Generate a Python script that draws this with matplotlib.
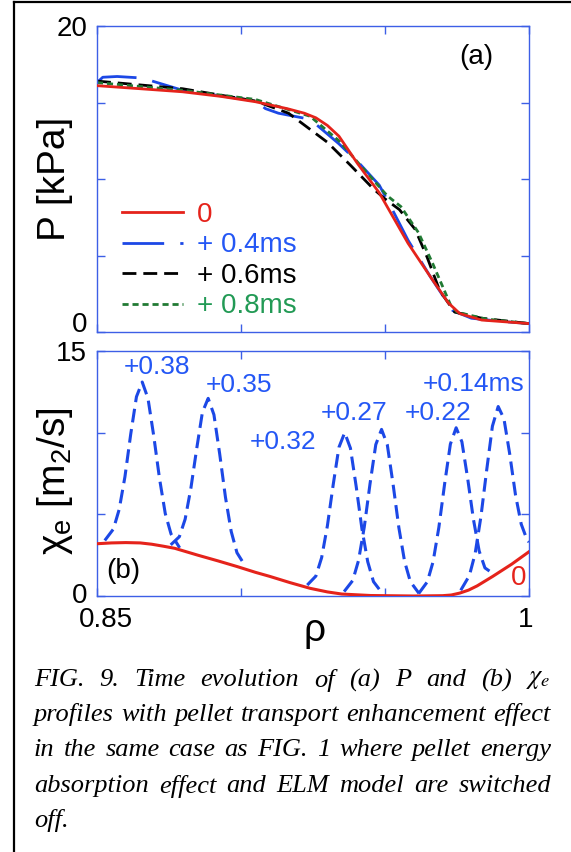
import matplotlib
matplotlib.use("Agg")
import matplotlib.pyplot as plt
from matplotlib.lines import Line2D
from matplotlib.transforms import ScaledTranslation

plt.rcParams['font.family'] = ['Liberation Sans', 'DejaVu Sans']
plt.rcParams['mathtext.fontset'] = 'custom'
plt.rcParams['mathtext.rm'] = 'Liberation Sans'
plt.rcParams['mathtext.it'] = 'Liberation Sans:italic'

# ____________________ data ____________________ #

# (a) pressure profiles
rho_p0 = [0.85, 0.865, 0.8797, 0.893, 0.905, 0.916, 0.922, 0.926, 0.930, 0.934, 0.9405, 0.948, 0.958, 0.9658, 0.972, 0.976, 0.9836, 1.0]
p_0 = [16.1, 15.9, 15.7, 15.4, 15.05, 14.6, 14.3, 14.0, 13.5, 12.8, 11.0, 9.1, 5.8, 3.6, 1.9, 1.2, 0.78, 0.55]

rho_p04 = [0.85, 0.852, 0.857, 0.8657, 0.8797, 0.905, 0.9085, 0.913, 0.924, 0.934, 0.9412, 0.948, 0.952, 0.958, 0.9658, 0.9735, 0.98, 0.99, 1.0]
p_04 = [16.3, 16.65, 16.7, 16.6, 15.8, 15.1, 14.6, 14.3, 13.9, 12.3, 11.0, 9.6, 8.2, 6.0, 3.6, 1.4, 0.9, 0.7, 0.55]

rho_p06 = [0.85, 0.8797, 0.905, 0.9165, 0.930, 0.938, 0.946, 0.950, 0.955, 0.9605, 0.9646, 0.969, 0.9742, 0.9836, 1.0]
p_06 = [16.4, 15.9, 15.1, 14.3, 12.4, 10.9, 9.35, 8.7, 8.0, 6.7, 4.9, 2.7, 1.3, 0.9, 0.55]

rho_p08 = [0.85, 0.8797, 0.905, 0.924, 0.934, 0.9405, 0.9508, 0.9555, 0.9616, 0.9665, 0.9727, 0.975, 0.985, 1.0]
p_08 = [16.3, 15.8, 15.2, 14.1, 12.5, 11.1, 8.9, 8.2, 6.5, 4.5, 1.8, 1.3, 0.85, 0.55]

p_labels = ['0', '+ 0.4ms', '+ 0.6ms', '+ 0.8ms']

# (b) chi_e, unperturbed profile
rho_chi0 = [0.85, 0.855, 0.86, 0.865, 0.869, 0.873, 0.877, 0.885, 0.892, 0.8987, 0.905, 0.91, 0.917, 0.924, 0.93, 0.935, 0.945,
            0.96, 0.97, 0.973, 0.976, 0.979, 0.982, 0.9874, 0.994, 1.0]
chi_0 = [3.2, 3.25, 3.27, 3.25, 3.17, 3.05, 2.92, 2.5, 2.15, 1.8, 1.45, 1.2, 0.82, 0.47, 0.25, 0.12, 0.03,
         0.0, 0.02, 0.06, 0.18, 0.36, 0.62, 1.2, 1.95, 2.71]

# (b) chi_e bumps at the pellet positions
rho_b38 = [0.8527, 0.8557, 0.8577, 0.8597, 0.8617, 0.8637, 0.8657, 0.8677, 0.8697, 0.8717, 0.8737, 0.8757, 0.8787]
chi_b38 = [3.4, 4.1, 5.3, 7.3, 9.9, 12.2, 13.1, 12.1, 9.8, 7.2, 5.05, 3.8, 2.95]

rho_b35 = [0.8756, 0.8786, 0.8806, 0.8826, 0.8846, 0.8866, 0.8886, 0.8906, 0.8926, 0.8946, 0.8966, 0.8986, 0.9016]
chi_b35 = [3.13, 3.63, 4.7, 6.6, 9.0, 11.25, 12.1, 11.1, 8.7, 6.05, 3.95, 2.65, 1.8]

rho_b32 = [0.923, 0.926, 0.928, 0.930, 0.932, 0.934, 0.936, 0.938, 0.940, 0.942, 0.944, 0.946, 0.949]
chi_b32 = [0.67, 1.22, 2.35, 4.3, 6.8, 9.1, 10.0, 9.05, 6.7, 4.1, 2.1, 0.88, 0.18]

rho_b27 = [0.9358, 0.9388, 0.9408, 0.9428, 0.9448, 0.9468, 0.9488, 0.9508, 0.9528, 0.9548, 0.9568, 0.9588, 0.9618]
chi_b27 = [0.27, 0.95, 2.17, 4.22, 6.87, 9.27, 10.2, 9.26, 6.85, 4.2, 2.12, 0.88, 0.16]

rho_b22 = [0.9617, 0.9647, 0.9667, 0.9687, 0.9707, 0.9727, 0.9747, 0.9767, 0.9787, 0.9807, 0.9827, 0.9847, 0.9877]
chi_b22 = [0.15, 0.87, 2.1, 4.2, 6.86, 9.3, 10.3, 9.44, 7.2, 4.7, 2.75, 1.72, 1.35]

rho_b14 = [0.9763, 0.9793, 0.9813, 0.9833, 0.9853, 0.9873, 0.9893, 0.9913, 0.9933, 0.9953, 0.9973, 0.9993, 1.0]
chi_b14 = [0.35, 1.25, 2.6, 4.85, 7.7, 10.4, 11.6, 10.85, 8.7, 6.2, 4.4, 3.45, 3.3]

bump_labels = ['+0.38', '+0.35', '+0.32', '+0.27', '+0.22', '+0.14ms']
bump_label_x = [0.8594, 0.8878, 0.9031, 0.9278, 0.957, 0.9632]
bump_label_y = [14.0, 12.9, 9.4, 11.2, 11.2, 13.0]

caption_lines = [
    r"FIG. 9. Time evolution of (a) P and (b) $\chi_e$",
    "profiles with pellet transport enhancement effect",
    "in the same case as FIG. 1 where pellet energy",
    "absorption effect and ELM model are switched",
    "off.",
]

# ____________________ colours / styles ____________________ #

RED = '#e5231b'
BLUE = '#1c48e6'
BLUE_TXT = '#2457f5'
GREEN = '#217a33'
GREEN_TXT = '#229a55'
SPINE = '#3d5fe6'

W, H = 571, 852
fig = plt.figure(figsize=(W / 100, H / 100), dpi=100)


def px_axes(l, t, r, b):
    return fig.add_axes([l / W, 1 - b / H, (r - l) / W, (b - t) / H])


def style_axes(ax, yticks, ylabels, xlabels):
    for s in ax.spines.values():
        s.set_color(SPINE)
        s.set_linewidth(1.0)
    ax.set_xlim(0.85, 1.0)
    ax.set_xticks([0.85, 0.9, 0.95, 1.0])
    ax.set_xticklabels(xlabels)
    ax.set_yticks(yticks)
    ax.set_yticklabels(ylabels)
    ax.tick_params(direction='in', top=True, right=True, length=6, width=1.0,
                   color=SPINE, labelsize=20, pad=7)


def nudge(label, dx, dy):
    # shift a tick label by (dx, dy) pixels
    label.set_transform(label.get_transform() +
                        ScaledTranslation(dx / 100, dy / 100, fig.dpi_scale_trans))


# ____________________ (a) pressure ____________________ #

ax1 = px_axes(97, 26, 529, 332)
ax1.plot(rho_p04, p_04, color=BLUE, lw=2.0, dashes=(15, 5.8), label=p_labels[1])
ax1.plot(rho_p06, p_06, color='black', lw=2.0, dashes=(5, 2.5), label=p_labels[2])
ax1.plot(rho_p08, p_08, color=GREEN, lw=2.0, dashes=(2.2, 1.4), label=p_labels[3])
ax1.plot(rho_p0, p_0, color=RED, lw=2.0, label=p_labels[0], zorder=5)
ax1.set_ylim(0, 20)
style_axes(ax1, [0, 5, 10, 15, 20], ['0', '', '', '', '20'], ['', '', '', ''])
nudge(ax1.get_yticklabels()[0], 0, 10)
ax1.text(-0.097, 0.5, 'P [kPa]', transform=ax1.transAxes, rotation=90,
         ha='center', va='center', fontsize=28)
ax1.text(0.9816, 18.0, '(a)', ha='center', va='center', fontsize=20)

handles, labels = ax1.get_legend_handles_labels()
order = [3, 0, 1, 2]
leg = ax1.legend([handles[i] for i in order], [labels[i] for i in order],
                 loc='upper left', bbox_to_anchor=(0.058, 0.425), frameon=False,
                 fontsize=20, handlelength=2.2, handletextpad=0.5,
                 labelspacing=0.16, borderpad=0, borderaxespad=0)
for t, c in zip(leg.get_texts(), [RED, BLUE_TXT, 'black', GREEN_TXT]):
    t.set_color(c)

# ____________________ (b) chi_e ____________________ #

ax2 = px_axes(97, 351, 529, 596)
bumps = [(rho_b38, chi_b38), (rho_b35, chi_b35), (rho_b32, chi_b32),
         (rho_b27, chi_b27), (rho_b22, chi_b22), (rho_b14, chi_b14)]
for r, c in bumps:
    ax2.plot(r, c, color=BLUE, lw=2.2, dashes=(4.5, 2.2))
ax2.plot(rho_chi0, chi_0, color=RED, lw=2.2, zorder=5)
ax2.set_ylim(0, 15)
style_axes(ax2, [0, 5, 10, 15], ['0', '', '', '15'], ['0.85', '', '', '1'])
ax2.tick_params(axis='x', pad=8)
nudge(ax2.get_yticklabels()[0], 0, 3)
nudge(ax2.get_xticklabels()[0], 9, 0)
nudge(ax2.get_xticklabels()[3], -3, 0)

for lab, x, y in zip(bump_labels, bump_label_x, bump_label_y):
    ax2.text(x, y, lab, color=BLUE_TXT, fontsize=19, ha='left', va='center')
ax2.text(0.9937, 1.1, '0', color=RED, fontsize=20, ha='left', va='center')
ax2.text(0.8531, 1.5, '(b)', fontsize=20, ha='left', va='center')
ax2.text(-0.097, 0.47, 'χ$_\\mathrm{e}$ [m$_2$/s]', transform=ax2.transAxes,
         rotation=90, ha='center', va='center', fontsize=28)
ax2.text(0.503, -0.07, 'ρ', transform=ax2.transAxes, ha='center',
         va='top', fontsize=28)

# ____________________ frame ____________________ #

fig.add_artist(Line2D([14 / W, 14 / W], [0, 1 - 2 / H], transform=fig.transFigure,
                      color='black', lw=1.6))
fig.add_artist(Line2D([14 / W, 1], [1 - 2 / H, 1 - 2 / H], transform=fig.transFigure,
                      color='black', lw=1.6))

# ____________________ justified caption ____________________ #

renderer = fig.canvas.get_renderer()
cap_left, cap_right = 34, 551
line_y = [680, 715, 750, 786, 821]
for k, (line, y) in enumerate(zip(caption_lines, line_y)):
    words = line.split(' ')
    texts = [fig.text(0, 1 - y / H, w, fontsize=19, family='Liberation Serif',
                      style='italic', va='center', ha='left', math_fontfamily='stix')
             for w in words]
    widths = [t.get_window_extent(renderer).width for t in texts]
    if k == len(caption_lines) - 1:
        gap = 5
    else:
        gap = (cap_right - cap_left - sum(widths)) / (len(words) - 1)
    x = cap_left
    for t, w in zip(texts, widths):
        t.set_x(x / W)
        x += w + gap

fig.savefig('out.png', dpi=100)
